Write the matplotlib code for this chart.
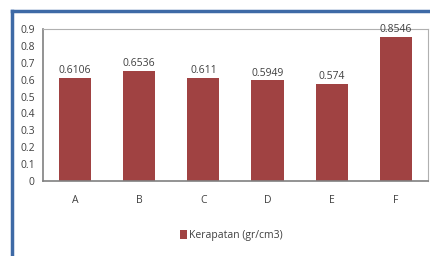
import matplotlib.pyplot as plt
from matplotlib.lines import Line2D

categories = ['A', 'B', 'C', 'D', 'E', 'F']
kerapatan = [0.6106, 0.6536, 0.611, 0.5949, 0.574, 0.8546]
value_labels = ['0.6106', '0.6536', '0.611', '0.5949', '0.574', '0.8546']

plt.rcParams['font.family'] = ['Open Sans', 'DejaVu Sans']

fig = plt.figure(figsize=(4.3, 2.56), dpi=100)
ax = fig.add_axes([0.1, 0.293, 0.895, 0.594])

bars = ax.bar(categories, kerapatan, width=0.5, color='#a04242',
              label='Kerapatan (gr/cm3)')
for b, t in zip(bars, value_labels):
    ax.text(b.get_x() + b.get_width() / 2, b.get_height() + 0.01, t,
            ha='center', va='bottom', fontsize=7.5, color='#404040')

ax.set_ylim(0, 0.9)
ax.set_xlim(-0.5, 5.5)
ax.set_yticks([i / 10 for i in range(10)])
ax.set_yticklabels(['0'] + ['0.%d' % i for i in range(1, 10)])
ax.tick_params(axis='both', length=0, labelsize=7.5, colors='#404040')
ax.tick_params(axis='x', pad=10)
ax.tick_params(axis='y', pad=6)
for s in ['top', 'right']:
    ax.spines[s].set_color('#b0b0b0')
for s in ['left', 'bottom']:
    ax.spines[s].set_color('#808080')
    ax.spines[s].set_linewidth(1.2)

ax.legend(loc='center', bbox_to_anchor=(0.49, -0.36), frameon=False,
          fontsize=7.5, handlelength=0.7, handleheight=1.0, handletextpad=0.2,
          labelcolor='#404040')

# blue frame from the screenshot
fig.add_artist(Line2D([12 / 430, 1], [1 - 11 / 256, 1 - 11 / 256],
                      transform=fig.transFigure, color='#3e6aa6', lw=2.5))
fig.add_artist(Line2D([12 / 430, 12 / 430], [0, 1 - 11 / 256],
                      transform=fig.transFigure, color='#3e6aa6', lw=2.5))

fig.savefig('out.png', dpi=100)
